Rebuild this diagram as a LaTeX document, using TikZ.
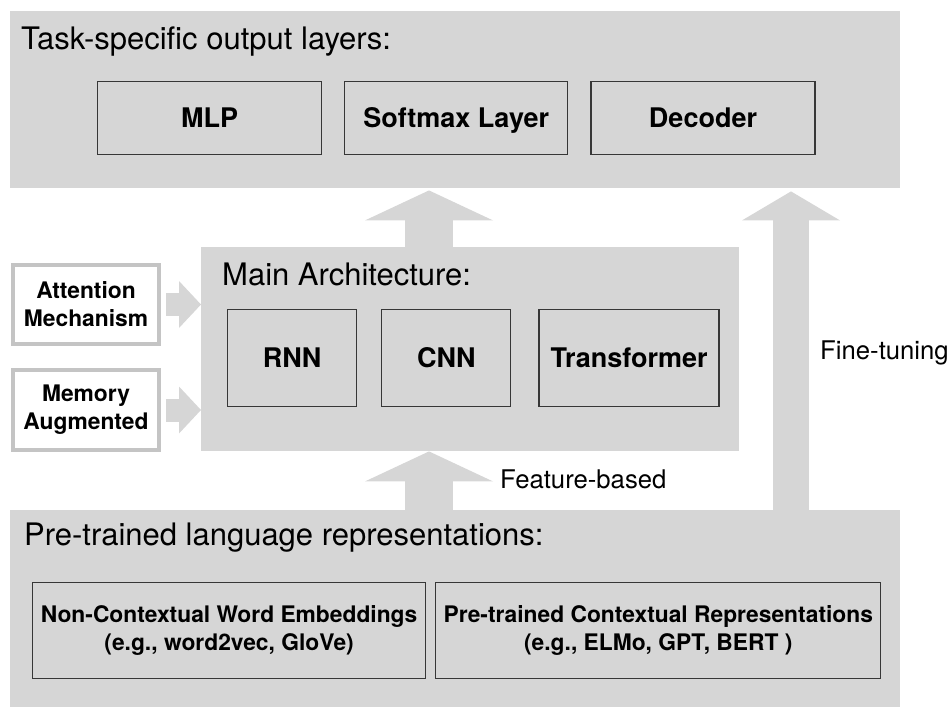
\documentclass[tikz,border=0pt]{standalone}
\usepackage{fontspec}
\setmainfont{TeX Gyre Heros}
\usepackage{tikz}
\usetikzlibrary{positioning,arrows.meta}
\definecolor{pan}{RGB}{214,214,214}
\definecolor{edge}{RGB}{55,55,55}
\definecolor{sidebd}{RGB}{196,196,196}
\newcommand{\ttlfont}{\fontsize{31}{36}\selectfont}
\newcommand{\bigfont}{\fontsize{27}{32}\selectfont\bfseries}
\newcommand{\smallfont}{\fontsize{22.8}{28}\selectfont\bfseries}
\newcommand{\lblfont}{\fontsize{25.7}{30}\selectfont}
\tikzset{
  panel/.style={fill=pan, anchor=north west, inner sep=0},
  bigbox/.style={draw=edge, line width=1.2pt, fill=pan, font=\bigfont, minimum height=#1, text height=19.4pt, text depth=0pt, inner sep=0},
  smallbox/.style={draw=edge, line width=1.2pt, fill=pan, font=\smallfont, align=center, minimum height=96pt, inner sep=0},
  sidebox/.style={draw=sidebd, line width=4pt, fill=white, font=\smallfont, align=center, anchor=north west, minimum width=146pt, inner sep=0},
  ttl/.style={font=\ttlfont, anchor=base west, inner sep=0},
  lbl/.style={font=\lblfont, anchor=base west, inner sep=0},
  fatarrow/.style={draw=pan, line width=48pt, -{Triangle[length=30pt,width=128pt,line width=0pt]}},
  thinarrow/.style={draw=pan, line width=36pt, -{Triangle[length=29pt,width=98pt,line width=0pt]}},
  sidearrow/.style={draw=pan, line width=23pt, -{Triangle[length=22pt,width=47pt,line width=0pt]}}
}
\begin{document}
\begin{tikzpicture}[x=1pt,y=-1pt]
\useasboundingbox (0,0) rectangle (950,707);
\node[panel, minimum width=890pt, minimum height=177pt] (outp) at (10,11) {};
\node[panel, minimum width=538pt, minimum height=204pt] (main) at (201,247) {};
\node[panel, minimum width=890pt, minimum height=197pt] (ptlr) at (10,510) {};
\node[ttl] (outpttl) at (21,49) {Task-specific output layers:};
\node[ttl] (mainttl) at (222,285) {Main Architecture:};
\node[ttl] (ptlrttl) at (24,545) {Pre-trained language representations:};
\node[bigbox=73pt, minimum width=224pt, anchor=north west] (mlp) at (97,81) {MLP};
\node[bigbox=73pt, minimum width=223pt, right=22pt of mlp] (softmax) {Softmax Layer};
\node[bigbox=73pt, minimum width=224pt, right=22pt of softmax] (decoder) {Decoder};
\node[bigbox=97pt, minimum width=129pt, anchor=north west] (rnn) at (227,309) {RNN};
\node[bigbox=97pt, minimum width=129pt, right=24pt of rnn] (cnn) {CNN};
\node[bigbox=97pt, minimum width=180pt, right=27pt of cnn] (trans) {Transformer};
\node[smallbox, minimum width=393pt, anchor=north west] (nonctx) at (32,582) {Non-Contextual Word Embeddings\\(e.g., word2vec, GloVe)};
\node[smallbox, minimum width=445pt, right=9pt of nonctx] (prectx) {Pre-trained Contextual Representations\\(e.g., ELMo, GPT, BERT )};
\node[sidebox, minimum height=79pt] (attn) at (11,263) {Attention\\Mechanism};
\node[sidebox, minimum height=80pt] (memo) at (11,368) {Memory\\Augmented};
\coordinate (fb) at (429,0);
\coordinate (ft) at (791,0);
\draw[fatarrow] (fb |- ptlr.north) -- (fb |- main.south);
\draw[fatarrow, shorten >=2pt] (fb |- main.north) -- (fb |- outp.south);
\draw[thinarrow, shorten >=3pt] (ft |- ptlr.north) -- (ft |- outp.south);
\draw[sidearrow, shorten <=5pt] (attn.east) -- (attn.east -| main.west);
\draw[sidearrow, shorten <=5pt] (memo.east) -- (memo.east -| main.west);
\node[lbl] (fblbl) at (500,488) {Feature-based};
\node[lbl] (ftlbl) at (820,359) {Fine-tuning};
\end{tikzpicture}
\end{document}
